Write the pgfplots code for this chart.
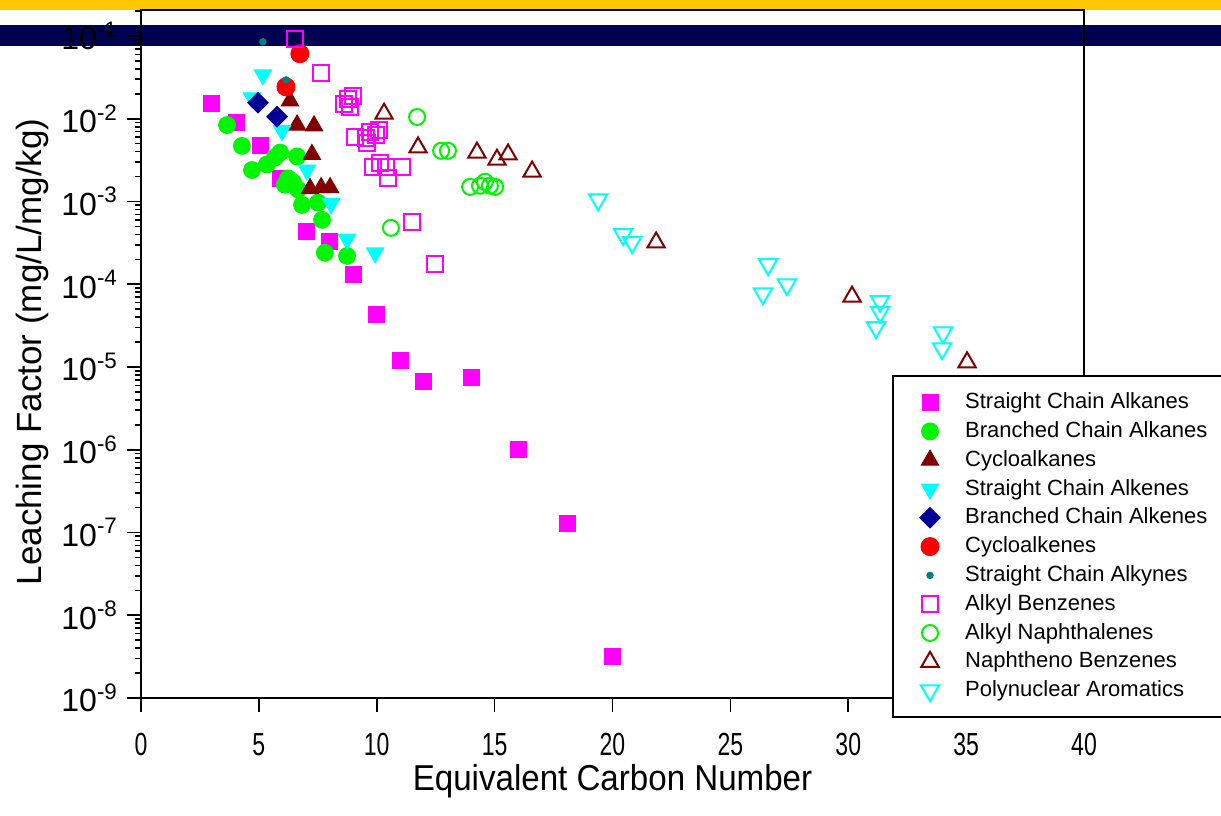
\documentclass[border=0pt]{standalone}
\usepackage{fontspec}
\setmainfont{Liberation Sans}
\newfontfamily\narrowsans[FakeStretch=0.72]{Liberation Sans}
\newfontfamily\labelsans[FakeStretch=0.92]{Liberation Sans}
\usepackage{pgfplots}
\pgfplotsset{compat=1.18}
\definecolor{cMag}{RGB}{255,0,255}
\definecolor{cGreen}{RGB}{0,245,0}
\definecolor{cDRed}{RGB}{128,0,0}
\definecolor{cCyan}{RGB}{0,255,255}
\definecolor{cBlue}{RGB}{0,0,150}
\definecolor{cRed}{RGB}{255,0,0}
\definecolor{cTeal}{RGB}{0,128,128}
\definecolor{bannerYellow}{RGB}{255,200,0}
\definecolor{bannerNavy}{RGB}{0,0,80}
\begin{document}
\begin{tikzpicture}
\useasboundingbox (0,0) rectangle (610.5pt,407.5pt);
\fill[bannerYellow] (0,402.5pt) rectangle (610.5pt,407.5pt);
\fill[bannerNavy] (0,384.5pt) rectangle (610.5pt,395pt);
\begin{axis}[
  at={(70.5pt,58.5pt)}, anchor=south west,
  scale only axis, width=471.5pt, height=344pt,
  ymode=log, xmin=0, xmax=40, ymin=1e-9, ymax=0.206,
  axis line style={line width=1pt},
  tick align=outside, xtick pos=bottom, ytick pos=left,
  major tick length=7pt, minor tick length=3pt,
  every tick/.style={black, line width=0.8pt},
  xtick={0,5,...,40},
  xticklabel style={font=\narrowsans\fontsize{16}{18}\selectfont, yshift=-7pt},
  /pgf/number format/assume math mode=true,
  ytick={1e-9,1e-8,1e-7,1e-6,1e-5,1e-4,1e-3,1e-2,1e-1},
  yticklabels={10\textsuperscript{-9},10\textsuperscript{-8},10\textsuperscript{-7},10\textsuperscript{-6},10\textsuperscript{-5},10\textsuperscript{-4},10\textsuperscript{-3},10\textsuperscript{-2},10\textsuperscript{-1}},
  minor ytick={2e-9,3e-9,4e-9,5e-9,6e-9,7e-9,8e-9,9e-9,
    2e-8,3e-8,4e-8,5e-8,6e-8,7e-8,8e-8,9e-8,
    2e-7,3e-7,4e-7,5e-7,6e-7,7e-7,8e-7,9e-7,
    2e-6,3e-6,4e-6,5e-6,6e-6,7e-6,8e-6,9e-6,
    2e-5,3e-5,4e-5,5e-5,6e-5,7e-5,8e-5,9e-5,
    2e-4,3e-4,4e-4,5e-4,6e-4,7e-4,8e-4,9e-4,
    2e-3,3e-3,4e-3,5e-3,6e-3,7e-3,8e-3,9e-3,
    2e-2,3e-2,4e-2,5e-2,6e-2,7e-2,8e-2,9e-2,2e-1},
  yticklabel style={font=\fontsize{16}{18}\selectfont, xshift=-1pt},
  xlabel={Equivalent Carbon Number},
  ylabel={Leaching Factor (mg/L/mg/kg)},
  xlabel style={font=\labelsans\fontsize{18}{20}\selectfont, at={(axis description cs:0.5,-0.121)}, anchor=center},
  ylabel style={font=\fontsize{17.5}{20}\selectfont, at={(axis description cs:-0.1156,0.503)}, anchor=center},
  legend cell align=left,
  legend style={at={(rel axis cs:0.796,0.4695)}, anchor=north west,
    font=\fontsize{11}{13}\selectfont, draw=black, line width=1.2pt, fill=white,
    inner xsep=13.5pt, inner ysep=7.2pt,
    nodes={inner sep=0pt, text height=9pt, text depth=3pt},
    row sep=2.4pt, column sep=12.5pt},
]
\addplot[only marks, mark=square*, color=cMag, mark size=4pt, line width=0.5pt] coordinates {
(3,0.0151) (4.07,0.0089) (5.05,0.0047) (5.9,0.0019) (7.04,0.00043) (8,0.00033) (9,0.00013) (10,4.3e-5) (11,1.2e-5) (12,6.7e-6) (14.04,7.5e-6) (16,1.0e-6) (18.07,1.3e-7) (20,3.2e-9)};
\addlegendentry{Straight Chain Alkanes}
\addplot[only marks, mark=*, color=cGreen, mark size=4.2pt, line width=0.5pt] coordinates {
(3.65,0.0084) (4.28,0.0047) (4.71,0.0024) (5.34,0.0028) (5.68,0.0034) (5.9,0.0039) (6.62,0.0035) (6.24,0.0019) (6.45,0.0017) (6.66,0.0014) (6.1,0.0016) (6.83,0.00091) (7.51,0.00097) (7.68,0.0006) (7.8,0.00024) (8.74,0.00022)};
\addlegendentry{Branched Chain Alkanes}
\addplot[only marks, mark=triangle*, color=cDRed, mark size=5pt, line width=0.5pt] coordinates {
(6.32,0.0164) (6.62,0.0084) (7.34,0.0082) (7.25,0.0037) (7.17,0.00143) (7.64,0.00147) (8.02,0.00147)};
\addlegendentry{Cycloalkanes}
\addplot[only marks, mark=triangle*, color=cCyan, mark size=5pt, line width=0.5pt, mark options={rotate=180}] coordinates {
(5.17,0.034) (4.71,0.0179) (5.98,0.0072) (7.04,0.0024) (8.06,0.00094) (8.74,0.00035) (9.93,0.00024)};
\addlegendentry{Straight Chain Alkenes}
\addplot[only marks, mark=square*, color=cBlue, mark size=3.6pt, line width=0.5pt, mark options={rotate=45}] coordinates {
(4.96,0.0156) (5.77,0.0106)};
\addlegendentry{Branched Chain Alkenes\hspace{40pt}}
\addplot[only marks, mark=*, color=cRed, mark size=4.5pt, line width=0.5pt] coordinates {
(6.74,0.061) (6.15,0.0243)};
\addlegendentry{Cycloalkenes}
\addplot[only marks, mark=*, color=cTeal, mark size=1.6pt, line width=0.5pt] coordinates {
(5.17,0.085) (6.15,0.0295)};
\addlegendentry{Straight Chain Alkynes}
\addplot[only marks, mark=square, color=cMag, mark size=4pt, line width=1pt] coordinates {
(6.53,0.092) (7.64,0.0358) (8.61,0.0151) (8.78,0.0174) (8.99,0.0189) (8.87,0.0139) (9.08,0.00605) (9.54,0.0059) (9.71,0.0070) (10.1,0.0073) (9.59,0.0051) (9.97,0.0064) (9.84,0.0026) (10.14,0.0029) (10.39,0.0026) (10.48,0.0019) (11.07,0.0026) (11.5,0.00057) (12.47,0.000178)};
\addlegendentry{Alkyl Benzenes}
\addplot[only marks, mark=o, color=cGreen, mark size=4pt, line width=1pt] coordinates {
(11.71,0.0105) (12.73,0.0041) (13.02,0.0041) (13.96,0.0015) (14.38,0.00155) (14.59,0.00173) (14.8,0.00155) (15.02,0.0015) (10.6,0.00048)};
\addlegendentry{Alkyl Naphthalenes}
\addplot[only marks, mark=triangle, color=cDRed, mark size=5pt, line width=1pt] coordinates {
(10.31,0.0115) (11.75,0.0045) (14.25,0.0039) (15.1,0.0032) (15.57,0.0037) (16.59,0.0023) (21.85,0.00032) (30.16,7.1e-5) (35.04,1.14e-5)};
\addlegendentry{Naphtheno Benzenes}
\addplot[only marks, mark=triangle, color=cCyan, mark size=5.3pt, line width=1pt, mark options={rotate=180}] coordinates {
(19.39,0.00105) (20.45,0.0004) (20.83,0.00032) (26.6,0.000173) (26.38,7.7e-5) (27.4,9.9e-5) (31.35,6.2e-5) (31.35,4.6e-5) (31.18,3.0e-5) (34.02,2.6e-5) (33.98,1.67e-5)};
\addlegendentry{Polynuclear Aromatics}
\end{axis}
\end{tikzpicture}
\end{document}
